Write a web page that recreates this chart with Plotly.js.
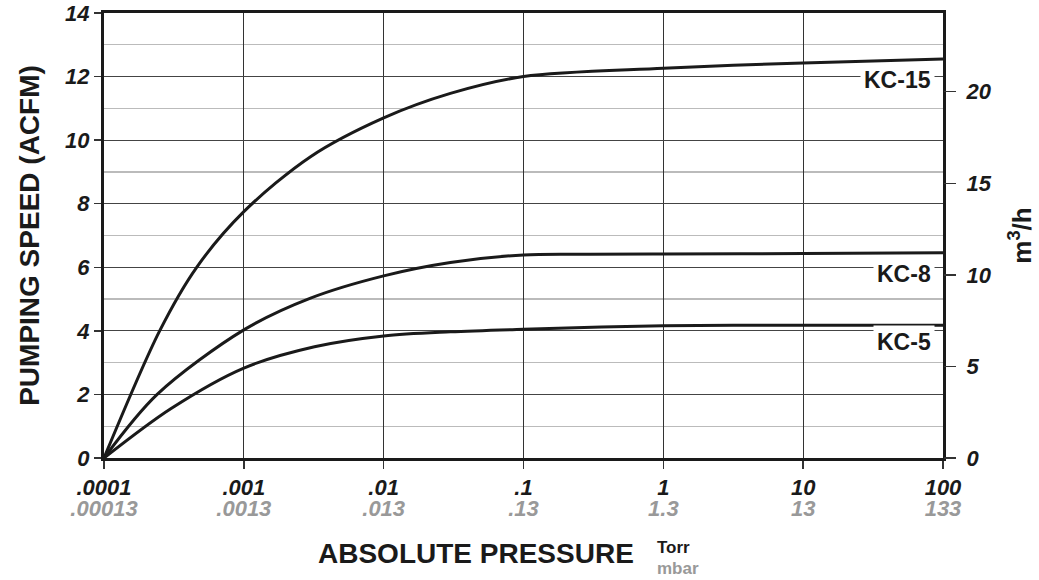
<!DOCTYPE html>
<html>
<head>
<meta charset="utf-8">
<script src="https://cdn.plot.ly/plotly-3.0.1.min.js"></script>
<style>html,body{margin:0;padding:0;background:#fff;}#chart{width:1039px;height:580px;}</style>
</head>
<body>
<div id="chart"></div>
<script>
// Pressure (Torr) and pumping speed (ACFM)
const pressureKC15 = [0.0001, 0.00025, 0.00046, 0.001, 0.003, 0.01, 0.03, 0.1, 1, 10, 100];
const speedKC15    = [0, 4.0, 6.0, 7.75, 9.48, 10.7, 11.47, 12.0, 12.26, 12.43, 12.55];

const pressureKC8  = [0.0001, 0.00024, 0.001, 0.003, 0.01, 0.03, 0.1, 0.3, 1, 10, 100];
const speedKC8     = [0, 2.0, 4.03, 5.03, 5.73, 6.15, 6.39, 6.41, 6.42, 6.43, 6.46];

const pressureKC5  = [0.0001, 0.0003, 0.001, 0.0032, 0.01, 0.03, 0.1, 1, 10, 100];
const speedKC5     = [0, 1.55, 2.83, 3.5, 3.84, 3.97, 4.05, 4.16, 4.18, 4.18];

const seriesNames = ["KC-15", "KC-8", "KC-5"];
const labelY = [11.9, 5.8, 3.64];

const torrTicks  = [0.0001, 0.001, 0.01, 0.1, 1, 10, 100];
const torrLabels = [".0001", ".001", ".01", ".1", "1", "10", "100"];
const mbarLabels = [".00013", ".0013", ".013", ".13", "1.3", "13", "133"];

const acfmTicks = [0, 2, 4, 6, 8, 10, 12, 14];
const m3hTicks  = [0, 5, 10, 15, 20];

const FONT = "Liberation Sans, Arial, Helvetica, sans-serif";
const lineStyle = {color: "#1a1a1a", width: 3, shape: "spline", smoothing: 0.9};
const bi = s => "<b><i>" + s + "</i></b>";

const data = [
  {x: pressureKC15, y: speedKC15, name: seriesNames[0], mode: "lines", line: lineStyle, hoverinfo: "skip"},
  {x: pressureKC8,  y: speedKC8,  name: seriesNames[1], mode: "lines", line: lineStyle, hoverinfo: "skip"},
  {x: pressureKC5,  y: speedKC5,  name: seriesNames[2], mode: "lines", line: lineStyle, hoverinfo: "skip"},
  // invisible helpers so the secondary axes (mbar, m³/h) are drawn
  {x: torrTicks, y: torrTicks.map(() => 0), xaxis: "x2", yaxis: "y", mode: "markers",
   marker: {opacity: 0}, hoverinfo: "skip"},
  {x: m3hTicks.map(() => 0.0001), y: m3hTicks, xaxis: "x", yaxis: "y2", mode: "markers",
   marker: {opacity: 0}, hoverinfo: "skip"}
];

const tickFont = {family: FONT, size: 22, color: "#1a1a1a"};

const annotations = seriesNames.map((n, i) => ({
  text: "<b>" + n + "</b>", xref: "paper", yref: "y", x: 0.9905, y: labelY[i],
  xanchor: "right", yanchor: "middle", showarrow: false,
  bgcolor: "#ffffff", borderpad: 3,
  font: {family: FONT, size: 23, color: "#1a1a1a"}
}));
annotations.push({
  text: "<b>ABSOLUTE PRESSURE</b>", xref: "paper", yref: "paper", x: 0.4434, y: -0.214,
  xanchor: "center", yanchor: "middle", showarrow: false,
  font: {family: FONT, size: 28, color: "#1a1a1a"}
});
annotations.push({
  text: "<b>Torr</b>", xref: "paper", yref: "paper", x: 0.657, y: -0.2,
  xanchor: "left", yanchor: "middle", showarrow: false,
  font: {family: FONT, size: 17, color: "#1a1a1a"}
});
annotations.push({
  text: "<b>mbar</b>", xref: "paper", yref: "paper", x: 0.657, y: -0.248,
  xanchor: "left", yanchor: "middle", showarrow: false,
  font: {family: FONT, size: 17, color: "#999999"}
});

const layout = {
  width: 1039, height: 580,
  margin: {l: 104, r: 96, t: 13, b: 122},
  paper_bgcolor: "#ffffff", plot_bgcolor: "#ffffff",
  showlegend: false,
  font: {family: FONT},
  xaxis: {
    type: "log", range: [-4, 2],
    tickvals: torrTicks, ticktext: torrLabels.map(bi),
    tickfont: tickFont,
    ticks: "outside", ticklen: 8, tickwidth: 1.5, tickcolor: "#333",
    ticklabelstandoff: 0,
    showgrid: true, gridcolor: "#333", gridwidth: 1.2,
    showline: true, linecolor: "#1a1a1a", linewidth: 3, mirror: true,
    zeroline: false, fixedrange: true
  },
  xaxis2: {
    type: "log", range: [-4, 2], overlaying: "x", anchor: "y", side: "bottom",
    tickvals: torrTicks, ticktext: mbarLabels.map(bi),
    tickfont: {family: FONT, size: 22, color: "#999999"},
    ticks: "", ticklabelstandoff: 35,
    showgrid: false, showline: false, zeroline: false, fixedrange: true
  },
  yaxis: {
    range: [0, 14], tickvals: acfmTicks, ticktext: acfmTicks.map(v => bi(String(v))),
    tickfont: tickFont,
    ticks: "outside", ticklen: 7, tickwidth: 1.5, tickcolor: "#333",
    showgrid: true, gridcolor: "#444", gridwidth: 1.2,
    minor: {dtick: 1, showgrid: true, gridcolor: "#bbbbbb", gridwidth: 1.2, ticks: ""},
    showline: true, linecolor: "#1a1a1a", linewidth: 3, mirror: true,
    zeroline: false, fixedrange: true,
    title: {text: "<b>PUMPING SPEED (ACFM)</b>", standoff: 18,
            font: {family: FONT, size: 28, color: "#1a1a1a"}}
  },
  yaxis2: {
    range: [0, 24.3], overlaying: "y", side: "right", anchor: "x",
    tickvals: m3hTicks, ticktext: m3hTicks.map(v => bi(String(v))), tickfont: tickFont,
    ticks: "outside", ticklen: 12, tickwidth: 1.5, tickcolor: "#333",
    ticklabelstandoff: 6,
    showgrid: false, showline: false, zeroline: false, fixedrange: true,
    title: {text: "<b>m<sup>3</sup>/h</b>", standoff: 22,
            font: {family: FONT, size: 26, color: "#1a1a1a"}}
  },
  annotations: annotations
};

Plotly.newPlot("chart", data, layout, {displayModeBar: false, staticPlot: true});
</script>
</body>
</html>
